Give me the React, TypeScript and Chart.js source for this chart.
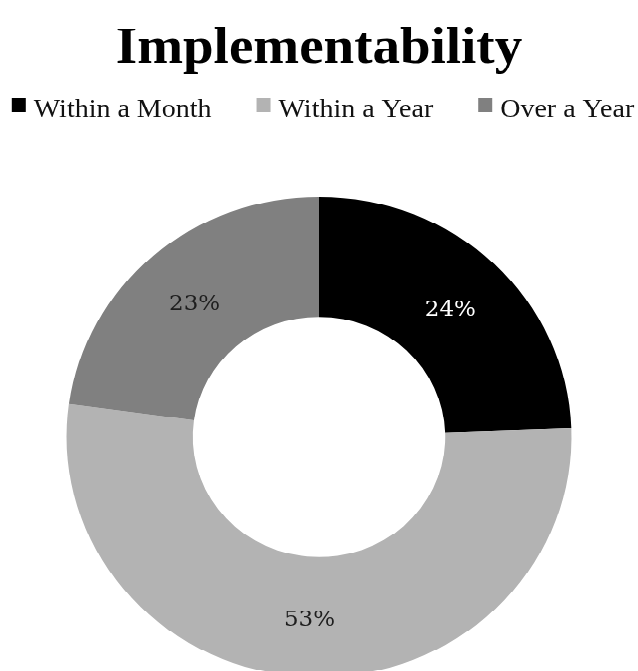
import React, { useEffect, useRef } from "react";
import { Chart, registerables } from "chart.js";

Chart.register(...registerables);

// ---- data ----
const TITLE = "Implementability";
const CATEGORIES = ["Within a Month", "Within a Year", "Over a Year"];
// shares read from the slice boundaries; labels show them rounded
const VALUES = [24.4, 52.8, 22.8];
const COLORS = ["#000000", "#b3b3b3", "#808080"];
const LABEL_COLORS = ["#ffffff", "#1e1e1e", "#1e1e1e"];

const CANVAS_W = 638;
const CANVAS_H = 715;
// the reference ring is slightly flattened vertically
const Y_SCALE = 0.951;

const legendPlugin = {
  id: "customLegend",
  afterDraw(chart: any) {
    const opts = chart.options.plugins.customLegend;
    const ctx = chart.ctx;
    ctx.save();
    ctx.font = `${opts.fontSize}px ${opts.family}`;
    const labels: string[] = chart.data.labels;
    const colors: string[] = chart.data.datasets[0].backgroundColor;
    const widths = labels.map((l) => ctx.measureText(l).width);
    const itemW = widths.map((w) => opts.boxW + opts.gap + w);
    const total =
      itemW.reduce((a, b) => a + b, 0) + opts.spacing * (labels.length - 1);
    let x = chart.width / 2 - total / 2 + opts.shift;
    const baseline = opts.baseline;
    labels.forEach((l, i) => {
      ctx.fillStyle = colors[i];
      ctx.fillRect(
        x,
        baseline - opts.boxBottom - opts.boxH,
        opts.boxW,
        opts.boxH
      );
      ctx.fillStyle = opts.color;
      ctx.textAlign = "left";
      ctx.textBaseline = "alphabetic";
      ctx.fillText(l, x + opts.boxW + opts.gap, baseline);
      x += itemW[i] + opts.spacing;
    });
    ctx.restore();
  },
};

const valueLabelPlugin = {
  id: "valueLabels",
  afterDatasetsDraw(chart: any) {
    const meta = chart.getDatasetMeta(0);
    const ctx = chart.ctx;
    ctx.save();
    ctx.font = "23px 'DejaVu Serif'";
    ctx.textAlign = "center";
    ctx.textBaseline = "middle";
    meta.data.forEach((arc: any, i: number) => {
      const p = arc.tooltipPosition(false);
      ctx.fillStyle = LABEL_COLORS[i];
      ctx.fillText(`${Math.round(VALUES[i])}%`, p.x, p.y + 3);
    });
    ctx.restore();
  },
};

export default function App() {
  const ref = useRef<HTMLCanvasElement | null>(null);

  useEffect(() => {
    document.body.style.margin = "0";
    document.body.style.overflow = "hidden";
    const canvas = ref.current;
    if (!canvas) return;
    const chart = new Chart(canvas, {
      type: "doughnut",
      data: {
        labels: CATEGORIES,
        datasets: [
          {
            data: VALUES,
            backgroundColor: COLORS,
            borderWidth: 0,
          },
        ],
      },
      options: {
        responsive: false,
        animation: false,
        events: [],
        cutout: "50%",
        layout: { padding: { top: 0, bottom: 3, left: 0, right: 0 } },
        plugins: {
          legend: { display: false },
          tooltip: { enabled: false },
          title: {
            display: true,
            text: TITLE,
            color: "#000000",
            font: {
              family: "'Liberation Serif'",
              size: 55,
              weight: "bold",
              lineHeight: 1.2,
            },
            padding: { top: 19, bottom: 122 },
          },
          customLegend: {
            fontSize: 28,
            family: "'Liberation Serif'",
            color: "#111111",
            boxW: 14,
            boxH: 15,
            gap: 8,
            spacing: 45,
            boxBottom: 5,
            baseline: 123,
            shift: 4,
          },
        } as any,
      },
      plugins: [legendPlugin, valueLabelPlugin],
    });
    return () => chart.destroy();
  }, []);

  return (
    <div
      style={{
        width: CANVAS_W,
        height: CANVAS_H,
        background: "#ffffff",
        transform: `scaleY(${Y_SCALE})`,
        transformOrigin: "top left",
      }}
    >
      <canvas ref={ref} width={CANVAS_W} height={CANVAS_H} />
    </div>
  );
}
